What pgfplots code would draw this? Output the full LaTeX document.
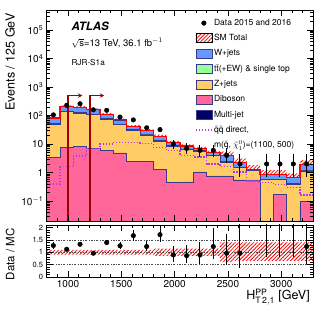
\documentclass[border=0pt]{standalone}
\usepackage{pgfplots}
\pgfplotsset{compat=1.18}
\usepackage{pgfplotstable}
\usepgfplotslibrary{fillbetween}
\usetikzlibrary{patterns,patterns.meta,arrows.meta}
\usepackage{fontspec}
\setmainfont{TeX Gyre Heros}
\setsansfont{TeX Gyre Heros}
\definecolor{wjets}{HTML}{6699FF}
\definecolor{ttbar}{HTML}{99FF99}
\definecolor{zjets}{HTML}{FFCC66}
\definecolor{dib}{HTML}{FF6699}
\definecolor{mj}{HTML}{000066}
\definecolor{outl}{HTML}{3A3A8C}
\definecolor{sig}{HTML}{B43CE6}
\definecolor{arrowred}{HTML}{A00000}

% bin left edges (last row repeats final bin at the right edge)
\pgfplotstableread{
x    tot   tt    z     dib    up     lo     sig   rup   rlo
800  82    54    50    3.3    90.2   73.8   0.4   1.1   0.9
925  205   142   135   7.4    225.5  184.5  1.6   1.1   0.9
1050 195   128   121   8.4    214.5  175.5  3.8   1.1   0.9
1175 163   111   106   6.8    179.3  146.7  7.0   1.1   0.9
1300 110   78    75    6.1    121    99     10    1.1   0.9
1425 70    50    48    4.9    77     63     11.5  1.1   0.9
1550 42    32.5  31    2.5    46.2   37.8   11.5  1.1   0.9
1675 30    22    21    2.5    33     27     10.5  1.1   0.9
1800 18.7  13.1  12.5  1.25   21.5   15.9   7.5   1.15  0.85
1925 11.3  8.7   8.4   0.45   13.0   9.6    6.0   1.15  0.85
2050 8.5   6.6   6.4   0.47   9.78   7.23   4.0   1.15  0.85
2175 6.9   5.8   5.6   1.05   7.94   5.87   3.5   1.15  0.85
2300 5.0   4.15  4.0   0.76   5.75   4.25   2.0   1.15  0.85
2425 3.9   2.4   2.3   0.76   5.46   2.34   1.6   1.4   0.6
2550 2.2   1.55  1.5   0.55   3.08   1.43   1.05  1.4   0.65
2675 1.3   1.22  1.2   0.55   1.82   0.85   0.5   1.4   0.65
2800 0.87  0.6   0.58  0.001  1.22   0.57   0.45  1.4   0.65
2925 0.87  0.6   0.58  0.176  1.22   0.57   0.38  1.4   0.65
3050 0.67  0.41  0.39  0.001  0.94   0.44   0.3   1.4   0.65
3175 1.94  1.2   1.14  0.10   2.72   1.26   0.16  1.4   0.65
3300 1.94  1.2   1.14  0.10   2.72   1.26   0.16  1.4   0.65
}\stack

\pgfplotstableread{
xc     d    ep    em    r     rep   rem
862.5  105  11.3  10.2  1.27  0.13  0.12
987.5  228  16.1  15.1  1.12  0.08  0.07
1112.5 258  17.1  16.1  1.32  0.09  0.08
1237.5 158  13.6  12.6  0.96  0.08  0.08
1362.5 152  13.3  12.3  1.39  0.12  0.11
1487.5 88   10.4  9.4   1.26  0.15  0.13
1612.5 70   9.4   8.4   1.67  0.22  0.20
1737.5 37   7.1   6.1   1.23  0.24  0.20
1862.5 32   6.7   5.6   1.71  0.36  0.30
1987.5 10   4.27  3.11  0.89  0.38  0.28
2112.5 7    3.77  2.58  0.86  0.45  0.31
2237.5 6    3.58  2.38  0.89  0.52  0.35
2362.5 6    3.58  2.38  1.23  0.73  0.49
2487.5 4    3.16  1.91  0.96  0.77  0.47
2612.5 2    2.64  1.29  0.96  1.23  0.60
2862.5 2    2.64  1.29  2.25  3.0   1.45
2987.5 2    2.64  1.29  2.25  3.0   1.45
3112.5 2    2.64  1.29  2.25  3.0   1.45
3237.5 2    2.64  1.29  1.23  2.0   0.70
}\data

\pgfplotsset{
  boxleg/.style={legend image code/.code={\draw[##1] (0pt,-4.5pt) rectangle (16pt,4.5pt);}},
  lineleg/.style={legend image code/.code={\draw[##1] (0pt,0pt) -- (16pt,0pt);}},
  dotleg/.style={legend image code/.code={\fill[black] (8pt,0pt) circle (2.3pt);}},
  histo/.style={const plot, draw=outl, line width=0.6pt, forget plot},
  atlasaxis/.style={
    scale only axis, width=266.6pt,
    xmin=800, xmax=3300,
    tick align=inside, major tick length=6pt, minor tick length=3pt,
    every tick/.style={black, line width=0.6pt},
    axis line style={line width=0.8pt},
    axis on top,
    xtick={1000,1500,2000,2500,3000},
    minor xtick={800,900,...,3300},
    /pgf/number format/assume math mode=true,
    /pgf/number format/set thousands separator={},
  },
}

\begin{document}
\begin{tikzpicture}
\path (0,0) rectangle (332pt,308pt);

\begin{axis}[atlasaxis,
  at={(46.7pt,87pt)}, anchor=south west, height=211pt,
  ymode=log, ymin=0.02, ymax=5e5, log origin=infty,
  xticklabels={},
  ytick={0.1,1,10,100,1000,10000,100000},
  yticklabels={10\textsuperscript{$-$1},1,10,10\textsuperscript{2},10\textsuperscript{3},10\textsuperscript{4},10\textsuperscript{5}},
  minor ytick={0.02,0.03,0.04,0.05,0.06,0.07,0.08,0.09,0.2,0.3,0.4,0.5,0.6,0.7,0.8,0.9,2,3,4,5,6,7,8,9,20,30,40,50,60,70,80,90,200,300,400,500,600,700,800,900,2000,3000,4000,5000,6000,7000,8000,9000,20000,30000,40000,50000,60000,70000,80000,90000,200000,300000,400000},
  yticklabel style={font=\fontsize{10}{11}\selectfont},
  ylabel={Events / 125 GeV},
  every axis y label/.style={at={(axis description cs:-0.137,1)}, rotate=90, anchor=east, font=\fontsize{12.5}{14}\selectfont},
  legend style={at={(0.556,0.959)}, anchor=north west, draw=none, fill=none,
    font=\fontsize{8.5}{10}\selectfont, row sep=6pt, inner sep=0pt,
    column sep=1pt, nodes={inner sep=0.4pt}},
  legend cell align=left,
]
% legend entries
\addlegendimage{dotleg}
\addlegendentry{Data 2015 and 2016}
\addlegendimage{boxleg, draw=none, pattern={Lines[angle=45,distance=2.6pt,line width=0.8pt]}, pattern color=red}
\addlegendentry{SM Total}
\addlegendimage{boxleg, fill=wjets, draw=outl}
\addlegendentry{W+jets}
\addlegendimage{boxleg, fill=ttbar, draw=outl}
\addlegendentry{$\mathrm{t}\bar{\mathrm{t}}$(+EW) \& single top}
\addlegendimage{boxleg, fill=zjets, draw=outl}
\addlegendentry{Z+jets}
\addlegendimage{boxleg, fill=dib, draw=outl}
\addlegendentry{Diboson}
\addlegendimage{boxleg, fill=mj, draw=outl}
\addlegendentry{Multi-jet}
\addlegendimage{lineleg, sig, line width=1.5pt, dash pattern=on 1.4pt off 1.6pt}
\addlegendentry{$\tilde{\mathrm{q}}\tilde{\mathrm{q}}$ direct,}
\addlegendimage{empty legend}
\addlegendentry{m($\tilde{\mathrm{q}}$, $\tilde{\chi}^{0}_{1}$)=(1100, 500)}

% stacked histograms (cumulative)
\addplot[histo, fill=wjets] table[x=x,y=tot]{\stack} \closedcycle;
\addplot[histo, fill=ttbar] table[x=x,y=tt]{\stack} \closedcycle;
\addplot[histo, fill=zjets] table[x=x,y=z]{\stack} \closedcycle;
\addplot[histo, fill=dib] table[x=x,y=dib]{\stack} \closedcycle;

% uncertainty band
\addplot[const plot, draw=none, name path=up, forget plot] table[x=x,y=up]{\stack};
\addplot[const plot, draw=none, name path=lo, forget plot] table[x=x,y=lo]{\stack};
\addplot[draw=none, pattern={Lines[angle=45,distance=2.6pt,line width=0.8pt]}, pattern color=red, forget plot] fill between[of=up and lo];
% SM total line
\addplot[const plot, red, line width=1.1pt, forget plot] table[x=x,y=tot]{\stack};
% signal
\addplot[const plot, draw=sig, line width=1.5pt, dash pattern=on 1.4pt off 1.6pt, forget plot] table[x=x,y=sig]{\stack};

% cut arrows
\draw[draw=arrowred, line width=1.3pt, -{Stealth[length=4.5pt,width=4.5pt,fill=arrowred]}] (axis cs:1000,0.02) |- (axis cs:1135,500);
\draw[draw=arrowred, line width=1.3pt, -{Stealth[length=4.5pt,width=4.5pt,fill=arrowred]}] (axis cs:1205,0.02) |- (axis cs:1340,500);

% data
\addplot[only marks, mark=*, mark size=2.3pt, black, forget plot,
  error bars/.cd, y dir=both, y explicit, error mark=none,
  error bar style={line width=1pt, black}]
  table[x=xc, y=d, y error plus=ep, y error minus=em]{\data};

% labels
\node[anchor=base west, font=\fontsize{11.5}{12}\selectfont\bfseries\itshape] at (axis description cs:0.08,0.902) {ATLAS};
\node[anchor=base west, font=\fontsize{9.5}{11}\selectfont] at (axis description cs:0.08,0.827) {$\sqrt{\mathrm{s}}$=13 TeV, 36.1 fb$^{-1}$};
\node[anchor=base west, font=\fontsize{8.2}{10}\selectfont] at (axis description cs:0.08,0.739) {RJR-S1a};
\end{axis}

\begin{axis}[atlasaxis,
  at={(46.7pt,31pt)}, anchor=south west, height=52pt,
  ymin=0, ymax=2.1,
  ytick={0,0.5,1,1.5,2}, yticklabels={0,0.5,1,1.5,2},
  minor y tick num=4,
  clip marker paths=true,
  yticklabel style={font=\fontsize{7.5}{8}\selectfont},
  xticklabel style={font=\fontsize{10}{11}\selectfont},
  ylabel={Data / MC},
  every axis y label/.style={at={(axis description cs:-0.137,1)}, rotate=90, anchor=east, font=\fontsize{11.5}{13}\selectfont},
  xlabel={H$_{\mathrm{T\,2,1}}^{\mathrm{PP}}$ [GeV]},
  every axis x label/.style={at={(axis description cs:1,-0.44)}, anchor=base east, font=\fontsize{12.5}{14}\selectfont},
]
\addplot[black!70, line width=0.5pt, dash pattern=on 2pt off 1.5pt on 0.5pt off 1.5pt, forget plot] coordinates {(800,0.5) (3300,0.5)};
\addplot[black!70, line width=0.5pt, dash pattern=on 2pt off 1.5pt on 0.5pt off 1.5pt, forget plot] coordinates {(800,1.5) (3300,1.5)};
\addplot[black!70, line width=0.5pt, dash pattern=on 2pt off 1.5pt on 0.5pt off 1.5pt, forget plot] coordinates {(800,1) (3300,1)};
\addplot[const plot, draw=none, name path=rup, forget plot] table[x=x,y=rup]{\stack};
\addplot[const plot, draw=none, name path=rlo, forget plot] table[x=x,y=rlo]{\stack};
\addplot[draw=none, pattern={Lines[angle=45,distance=2.6pt,line width=0.8pt]}, pattern color=red, forget plot] fill between[of=rup and rlo];
\addplot[only marks, mark=*, mark size=2.3pt, black, forget plot,
  error bars/.cd, y dir=both, y explicit, error mark=none,
  error bar style={line width=1pt, black}]
  table[x=xc, y=r, y error plus=rep, y error minus=rem]{\data};
\end{axis}
\end{tikzpicture}
\end{document}
